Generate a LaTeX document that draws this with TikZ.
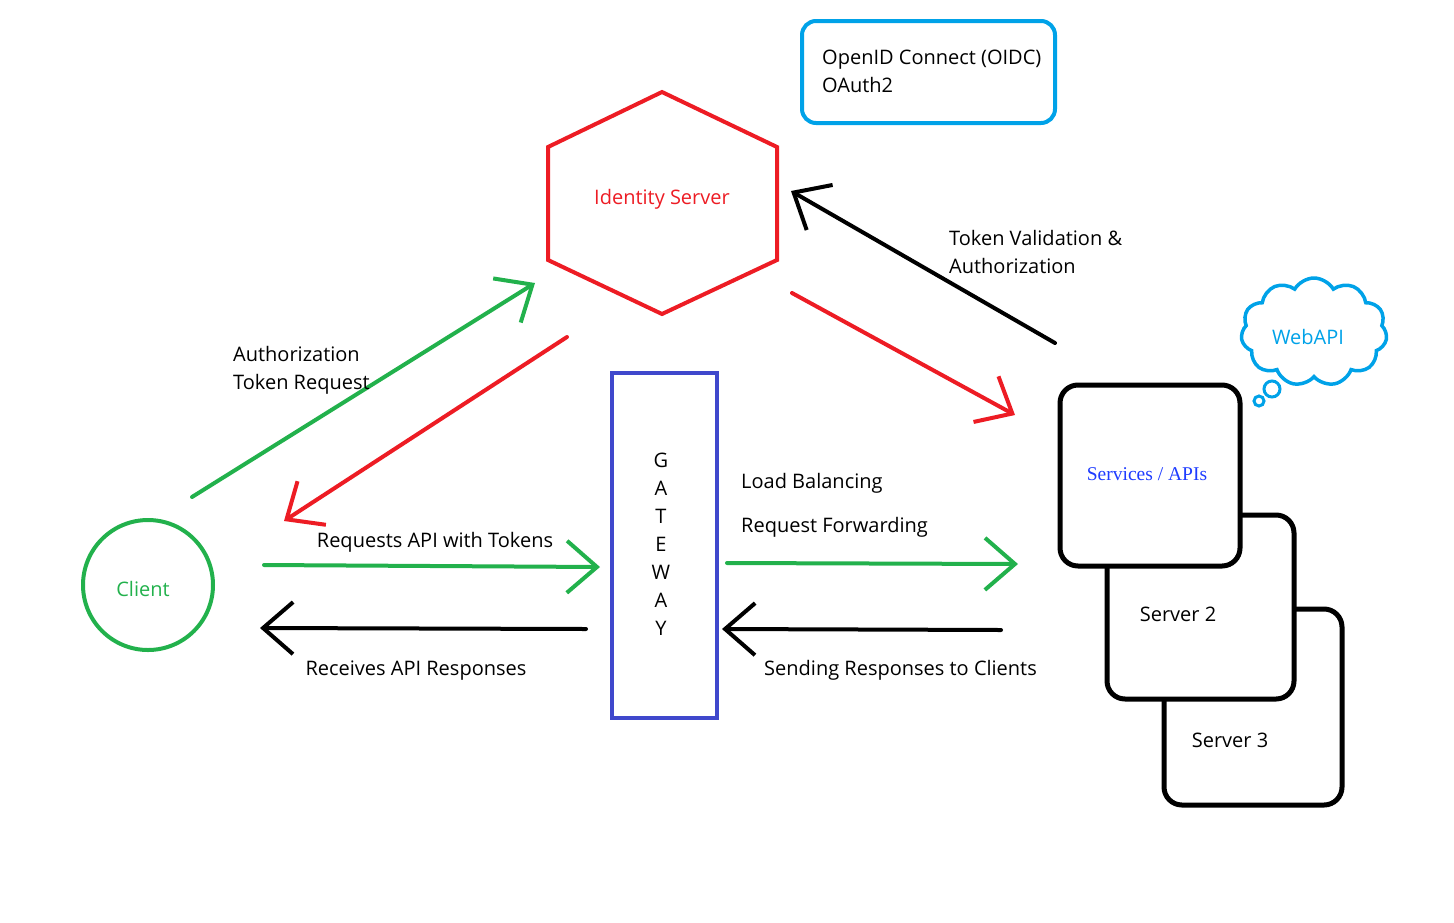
\documentclass[tikz,border=0pt]{standalone}
\usepackage{fontspec}
\setmainfont{Open Sans}
\newfontfamily\servfont{Liberation Serif}
\usetikzlibrary{arrows.meta,shapes.symbols,shapes.geometric}
\definecolor{ired}{RGB}{237,28,36}
\definecolor{igreen}{RGB}{34,177,76}
\definecolor{iblue}{RGB}{63,72,204}
\definecolor{icyan}{RGB}{0,162,232}
\definecolor{sblue}{RGB}{30,60,255}
\tikzset{
  lbl/.style={font=\fontsize{20}{28}\selectfont, inner sep=0pt, align=left, yshift=-2pt},
  conn/.style={line width=4pt, line cap=round, line join=round,
    -{Straight Barb[length=30pt,width=52pt,line width=4pt]}},
  srv/.style={draw=black, line width=5pt, rounded corners=18pt, fill=white},
}
\begin{document}
\begin{tikzpicture}[x=1pt,y=-1pt]
\useasboundingbox (0,0) rectangle (1454,922);

% OIDC box
\node[draw=icyan, line width=4pt, rounded corners=14pt, minimum width=253pt, minimum height=102pt, inner sep=0pt] (oidc) at (928.5,72) {};
\node[lbl, anchor=west] (oidct) at (822,69) {OpenID Connect (OIDC)\\OAuth2};

% Identity server hexagon
\coordinate (h1) at (662,92);
\coordinate (h2) at (777,147);
\coordinate (h3) at (777,260);
\coordinate (h4) at (662,314);
\coordinate (h5) at (548,260);
\coordinate (h6) at (548,147);
\draw[ired, line width=4pt, line join=miter] (h1) -- (h2) -- (h3) -- (h4) -- (h5) -- (h6) -- cycle;
\node[lbl, text=ired] (ids) at (662,197) {Identity Server};

% Client
\node[draw=igreen, line width=4pt, circle, minimum size=130pt, inner sep=0pt] (client) at (148,585) {};
\node[lbl, text=igreen] (clientt) at (143,587) {Client};

% Gateway
\node[draw=iblue, line width=4pt, minimum width=105pt, minimum height=345pt, inner sep=0pt] (gw) at (664.5,545.5) {};
\foreach \l [count=\i from 0] in {G,A,T,E,W,A,Y} {
  \node[lbl] (gw\i) at (661,458+28*\i) {\l};
}

% Servers
\node[srv, minimum width=178pt, minimum height=196pt] (s3) at (1253,707) {};
\node[srv, minimum width=187pt, minimum height=184pt] (s2) at (1200.5,607) {};
\node[srv, minimum width=180pt, minimum height=181pt] (s1) at (1150,475.5) {};
\node[font=\servfont\fontsize{19.5}{22}\selectfont, text=sblue, inner sep=0pt, yshift=-2pt] (s1t) at (1147,472) {Services / APIs};
\node[lbl] (s2t) at (1178,612) {Server 2};
\node[lbl] (s3t) at (1230,738) {Server 3};

% WebAPI cloud
\node[cloud, draw=icyan, line width=3.5pt, cloud puffs=11, cloud puff arc=120, aspect=1.35, minimum width=146pt, minimum height=108pt, inner sep=0pt] (cloud) at (1314,332) {};
\node[lbl, text=icyan] (cloudt) at (1308,335) {WebAPI};
\node[draw=icyan, line width=3pt, circle, minimum size=16pt, inner sep=0pt] (b1) at (1272,389) {};
\node[draw=icyan, line width=3pt, circle, minimum size=10pt, inner sep=0pt] (b2) at (1259,401) {};

% Arrow endpoints
\coordinate (a1s) at (192,497); \coordinate (a1e) at (535,283);
\coordinate (a2s) at (567,337); \coordinate (a2e) at (284,521);
\coordinate (a3s) at (264,565); \coordinate (a3e) at (600,567);
\coordinate (a4s) at (586,629); \coordinate (a4e) at (260,628);
\coordinate (a5s) at (727,563); \coordinate (a5e) at (1018,564);
\coordinate (a6s) at (1001,630); \coordinate (a6e) at (722,629);
\coordinate (a7s) at (1055,343); \coordinate (a7e) at (791,191);
\coordinate (a8s) at (792,293); \coordinate (a8e) at (1015,415);

\draw[conn, igreen] (a1s) -- (a1e);
\draw[conn, ired] (a2s) -- (a2e);
\draw[conn, igreen] (a3s) -- (a3e);
\draw[conn, black] (a4s) -- (a4e);
\draw[conn, igreen] (a5s) -- (a5e);
\draw[conn, black] (a6s) -- (a6e);
\draw[conn, black] (a7s) -- (a7e);
\draw[conn, ired] (a8s) -- (a8e);

% Labels
\node[lbl, anchor=west] (l1) at (233,368) {Authorization\\Token Request};
\node[lbl] (l3) at (435,540) {Requests API with Tokens};
\node[lbl] (l4) at (416,669) {Receives API Responses};
\node[lbl, anchor=west] (l5a) at (741,481) {Load Balancing};
\node[lbl, anchor=west] (l5b) at (741,525) {Request Forwarding};
\node[lbl, anchor=west] (l6) at (764,668) {Sending Responses to Clients};
\node[lbl, anchor=west] (l7) at (949,250) {Token Validation \&\\Authorization};
\end{tikzpicture}
\end{document}
